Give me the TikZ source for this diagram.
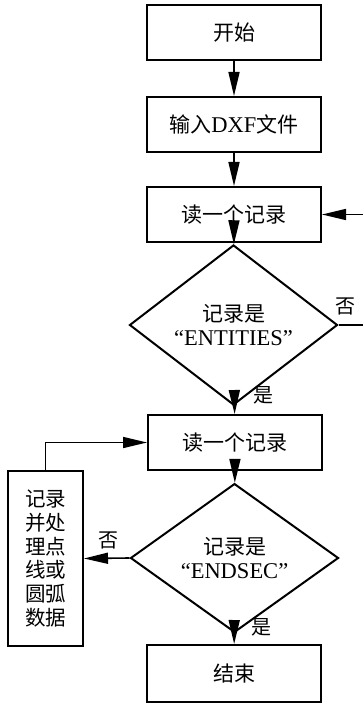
\documentclass[tikz,border=0pt]{standalone}
\usepackage{fontspec}
\setmainfont{Liberation Serif}
\newfontfamily\cjk{Noto Sans CJK SC}
\usetikzlibrary{shapes.geometric,arrows.meta}
\begin{document}
\begin{tikzpicture}[x=1pt,y=-1pt,
  box/.style={draw,line width=2pt,minimum width=174pt,minimum height=55pt,inner sep=0pt,font=\fontsize{21}{24}\selectfont},
  dec/.style={draw,diamond,line width=2pt,minimum width=208pt,minimum height=104pt,inner sep=0pt,align=center,font=\fontsize{22.5}{24}\selectfont},
  arr/.style={line width=1.6pt,-{Triangle[length=24pt,width=11pt]}},
  lbl/.style={font=\fontsize{20}{24}\selectfont\cjk,inner sep=0pt}]
\useasboundingbox (0,0) rectangle (363,703);
\node[box] (start) at (234,32.5) {\cjk 开始};
\node[box] (input) at (234,124.5) {{\cjk 输入}\fontsize{22.5}{24}\selectfont DXF{\cjk\fontsize{21}{24}\selectfont 文件}};
\node[box] (read1) at (234,214.5) {\cjk 读一个记录};
\node[dec] (d1) at (233.5,325) {{\cjk\fontsize{21}{24}\selectfont 记录是}\\“ENTITIES”};
\node[box] (read2) at (235,442.5) {\cjk 读一个记录};
\node[dec] (d2) at (234.5,558) {{\cjk\fontsize{21}{24}\selectfont 记录是}\\“ENDSEC”};
\node[box,minimum width=75pt,minimum height=175pt,align=center,font=\fontsize{20.5}{23.7}\selectfont\cjk] (proc) at (45.5,558.5) {记录\\并处\\理点\\线或\\圆弧\\数据};
\node[box,minimum height=57pt] (end) at (234,673.5) {\cjk 结束};
\node[lbl] (no1) at (345,306) {否};
\node[lbl] (yes1) at (263,395) {是};
\node[lbl] (no2) at (108,540) {否};
\node[lbl] (yes2) at (261,627) {是};
\draw[arr] (start) -- (input);
\draw[arr] (input) -- (read1);
\draw[arr] (read1) -- (d1);
\draw[arr] (d1) -- (read2);
\draw[arr] (d1.east) -- ++(30,0) |- (read1.east);
\draw[arr] (read2) -- (d2);
\draw[arr] (d2) -- (end);
\draw[arr] (d2.west) -- (proc.east);
\draw[arr] (proc.north) |- (read2.west);
\end{tikzpicture}
\end{document}
